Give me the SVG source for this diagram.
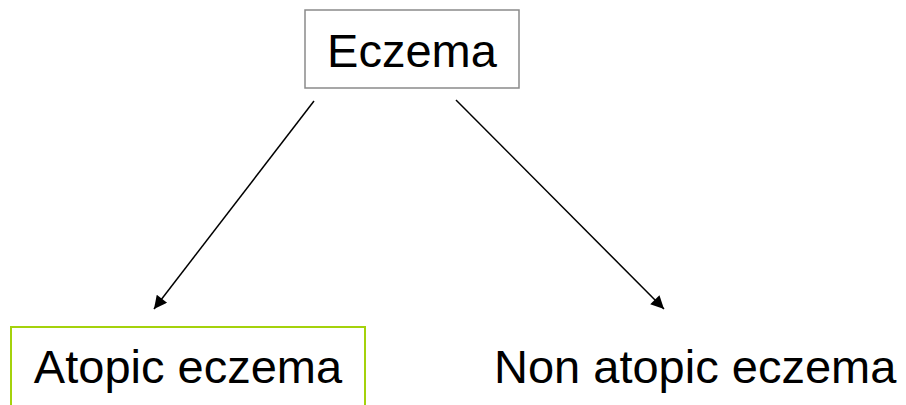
<svg xmlns="http://www.w3.org/2000/svg" width="906" height="405" viewBox="0 0 906 405">
<style>
  text { font-family: "Liberation Sans", Arial, sans-serif; font-size: 47px; fill: #000; }
  .conn { stroke: #000; stroke-width: 1.5; fill: none; }
</style>
<defs>
  <marker id="arrow" viewBox="0 0 10 10" refX="10" refY="5" markerWidth="16" markerHeight="13" markerUnits="userSpaceOnUse" orient="auto">
    <path d="M0,0 L10,5 L0,10 z" fill="#000"/>
  </marker>
</defs>
<rect width="906" height="405" fill="#fff"/>
<g id="eczema">
  <rect x="305" y="10" width="214" height="78" fill="#fff" stroke="#8a8a8a" stroke-width="1.5"/>
  <text x="412" y="67" text-anchor="middle">Eczema</text>
</g>
<g id="atopic">
  <rect x="11" y="327" width="354" height="90" fill="#fff" stroke="#a4d20c" stroke-width="2"/>
  <text x="188" y="383" text-anchor="middle">Atopic eczema</text>
</g>
<g id="non-atopic">
  <text x="494" y="383">Non atopic eczema</text>
</g>
<g id="connectors">
  <line class="conn" x1="314" y1="101" x2="154" y2="309" marker-end="url(#arrow)"/>
  <line class="conn" x1="456" y1="100" x2="664" y2="309" marker-end="url(#arrow)"/>
</g>
</svg>
